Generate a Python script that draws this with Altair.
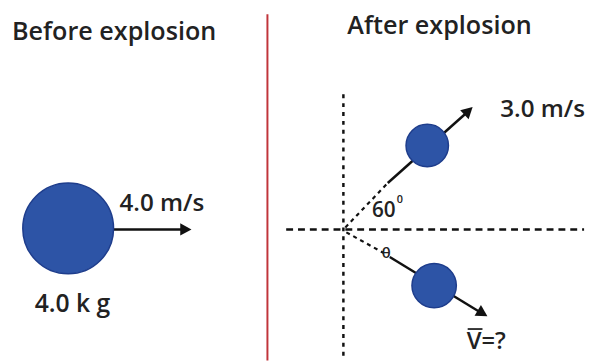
import altair as alt
import pandas as pd

# ---- diagram geometry (pixel-like coordinates of the picture) ----
# balls: x, y, diameter
ball_x = [69, 433, 440]
ball_y = [229, 145, 287]
ball_d = [92, 43, 45]

# solid arrow shafts (x1, y1, x2, y2)
solid_x1 = [115, 393, 395]
solid_y1 = [230, 183, 258]
solid_x2 = [190, 476, 490]
solid_y2 = [230, 109, 316]

# arrow heads: tip x, tip y, angle (deg, clockwise from up)
head_x = [194, 479, 494]
head_y = [230, 106, 318]
head_angle = [90, 47, 121]

# dashed guide lines (x1, y1, x2, y2)
guide_x1 = [348, 290, 350, 351]
guide_y1 = [93, 230, 228, 233]
guide_x2 = [348, 592, 392, 389]
guide_y2 = [363, 230, 184, 254]

# texts
label_text = ["Before explosion", "After explosion", "4.0 m/s", "4.0 k g", "3.0 m/s", "60", "0", "θ", "V=?"]
label_x = [12, 352, 121, 35, 507, 377, 402, 387, 473]
label_y = [38, 32, 211, 314, 116, 217, 203, 259, 351]
label_size = [25.5, 25.5, 24.5, 25, 24.5, 21, 11, 15, 24]

X = alt.X("x:Q", scale=alt.Scale(domain=[8, 598]), axis=None)
Y = alt.Y("y:Q", scale=alt.Scale(domain=[8, 363], reverse=True), axis=None)

divider = alt.Chart(pd.DataFrame({"x": [271], "y": [12], "y2": [363]})).mark_rule(
    color="#c0343a", strokeWidth=2
).encode(x=X, y=Y, y2="y2:Q")

guides = pd.DataFrame({"x": guide_x1, "y": guide_y1, "x2": guide_x2, "y2": guide_y2,
                       "k": ["v", "h", "a", "b"]})
dash_v = alt.Chart(guides[guides.k == "v"]).mark_rule(
    color="#111", strokeWidth=2.5, strokeDash=[4, 5]).encode(x=X, y=Y, x2="x2:Q", y2="y2:Q")
dash_h = alt.Chart(guides[guides.k == "h"]).mark_rule(
    color="#111", strokeWidth=2.5, strokeDash=[7, 5]).encode(x=X, y=Y, x2="x2:Q", y2="y2:Q")
dash_d = alt.Chart(guides[guides.k.isin(["a", "b"])]).mark_rule(
    color="#111", strokeWidth=2.2, strokeDash=[4, 4]).encode(x=X, y=Y, x2="x2:Q", y2="y2:Q")

shafts = alt.Chart(pd.DataFrame({"x": solid_x1, "y": solid_y1, "x2": solid_x2, "y2": solid_y2})).mark_rule(
    color="#111", strokeWidth=2.5).encode(x=X, y=Y, x2="x2:Q", y2="y2:Q")

heads = alt.Chart(pd.DataFrame({"x": head_x, "y": head_y, "a": head_angle})).mark_point(
    shape="M0,0L-0.55,1L0.55,1Z", filled=True, color="#111", opacity=1, size=520
).encode(x=X, y=Y, angle=alt.Angle("a:Q", scale=None))

balls = alt.Chart(pd.DataFrame({"x": ball_x, "y": ball_y, "s": [d * d for d in ball_d]})).mark_point(
    shape="circle", filled=True, color="#2d54a6", stroke="#1e3d8c", strokeWidth=1.5, opacity=1
).encode(x=X, y=Y, size=alt.Size("s:Q", scale=None))

texts = alt.Chart(pd.DataFrame({"x": label_x, "y": label_y, "t": label_text, "fs": label_size})).mark_text(
    align="left", baseline="alphabetic", font="Open Sans", fontWeight=600, color="#222222"
).encode(x=X, y=Y, text="t:N", size=alt.Size("fs:Q", scale=None))

overline = alt.Chart(pd.DataFrame({"x": [474], "x2": [489], "y": [331]})).mark_rule(
    color="#222222", strokeWidth=1.8).encode(x=X, x2="x2:Q", y=Y)

chart = alt.layer(divider, dash_v, dash_h, dash_d, shafts, heads, balls, texts, overline).properties(
    width=590, height=355, padding=0, autosize=alt.AutoSizeParams(type="none"), background="white"
).configure_view(stroke=None)

chart.save("out.html", embed_options={"renderer": "svg", "actions": False})
